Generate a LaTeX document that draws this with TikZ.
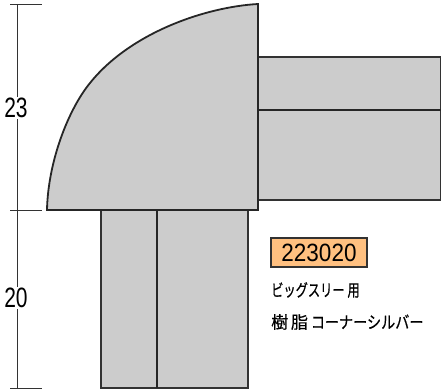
\documentclass[tikz,border=0pt]{standalone}
\usepackage{fontspec}
\setmainfont{Liberation Sans}
\newfontfamily\jpfont[FakeBold=0.6]{Noto Sans CJK JP}
\definecolor{partgray}{RGB}{204,204,204}
\definecolor{linegray}{RGB}{50,50,50}
\definecolor{codeorange}{RGB}{255,192,128}
\tikzset{
  part/.style={draw=linegray,fill=partgray,line width=1.4pt},
  seam/.style={draw=black!85,line width=1.8pt},
  dimline/.style={draw=black!80,line width=1pt},
  dimlabel/.style={fill=white,inner sep=1pt,font=\fontsize{28pt}{28}\selectfont},
  jplabel/.style={anchor=west,inner sep=0pt,text=black,font=\jpfont\fontsize{17pt}{17}\selectfont}}
\begin{document}
\begin{tikzpicture}[x=1pt,y=-1pt]
\useasboundingbox (0,0) rectangle (441,391);
% legs
\draw [part] (258,57) rectangle (441,200);
\draw [seam] (258,110) -- (441,110);
\draw [part] (101,210) rectangle (248,388);
\draw [seam] (157,210) -- (157,388);
% corner
\draw [part,line width=1.8pt,draw=black!85] (47,210) .. controls (48,162) and (68,110) .. (90,83)
  .. controls (130,33) and (205,7) .. (258,4) -- (258,210) -- cycle;
% dimensions
\coordinate (dimtop) at (17,4);
\coordinate (dimmid) at (17,210);
\coordinate (dimbot) at (17,388);
\draw [dimline] (dimtop) -- (dimbot);
\draw [dimline] (10,4) -- (42,4);
\draw [dimline] (10,210) -- (42,210);
\draw [dimline] (10,388) -- (42,388);
\node [dimlabel,xscale=0.75] (h23) at (16,108) {23};
\node [dimlabel,xscale=0.75] (h20) at (16,298) {20};
% code
\node [draw=linegray,fill=codeorange,line width=1.4pt,minimum width=96pt,minimum height=29pt,inner sep=0pt] (code) at (319,252.5) {\fontsize{25pt}{25}\selectfont\scalebox{0.9}[1]{223020}};
\node [jplabel] (use) at (271,290) {\scalebox{0.72}[1]{ビッグスリー}\,\scalebox{0.72}[1]{用}};
\node [jplabel] (name) at (271,322) {樹\,脂\,\scalebox{0.83}[1]{コーナーシルバー}};
\end{tikzpicture}
\end{document}
